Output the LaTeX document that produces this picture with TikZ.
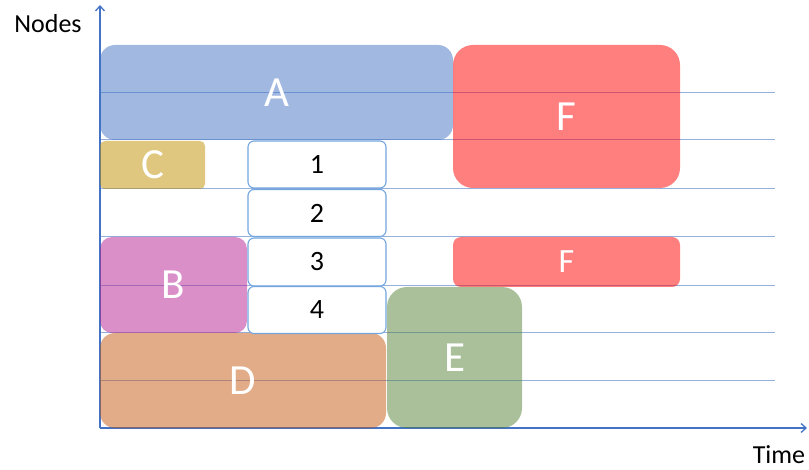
\documentclass[tikz,border=0pt]{standalone}
\usepackage{fontspec}
\setmainfont{Carlito}
\usetikzlibrary{arrows.meta}
\definecolor{axisblue}{HTML}{4472C4}
\definecolor{cA}{HTML}{4472C4}
\definecolor{cF}{HTML}{FF0000}
\definecolor{cC}{HTML}{BF9000}
\definecolor{cB}{HTML}{B51F91}
\definecolor{cD}{HTML}{C55A11}
\definecolor{cE}{HTML}{548235}
\definecolor{gridline}{RGB}{150,176,222}
\definecolor{slotborder}{RGB}{115,165,222}
\tikzset{
  axis/.style={draw=axisblue, line width=1.3pt, -{Straight Barb[length=5pt,width=9pt]}},
  gridln/.style={draw=gridline, line width=1pt},
  job/.style={anchor=north west, inner sep=0pt, outer sep=0pt, fill opacity=0.5,
    text opacity=1, text=white, font=\fontsize{43}{43}\selectfont},
  slot/.style={anchor=north west, inner sep=0pt, outer sep=0pt, fill=white,
    draw=slotborder, line width=1.1pt, rounded corners=6pt,
    font=\fontsize{28}{28}\selectfont},
  axlabel/.style={inner sep=0pt, font=\fontsize{26}{26}\selectfont}
}
\begin{document}
\begin{tikzpicture}[x=1pt,y=-1pt]
\useasboundingbox (0,0) rectangle (809,470);
% grid lines
\foreach \yy in {93,140,189,237,286,333,381}
  \draw[gridln] (100,\yy) -- (775,\yy);
% axes
\coordinate (origin) at (100,428);
\coordinate (ytip) at (100,5);
\coordinate (xtip) at (807,428);
\draw[axis] (origin) -- (ytip);
\draw[axis] (origin) -- (xtip);
\node[axlabel] (nodes) at (48,24) {Nodes};
\node[axlabel] (time) at (779,455) {Time};
% jobs
\node[job, fill=cA, rounded corners=15pt, minimum width=353pt, minimum height=95pt] (A) at (100,45) {A};
\node[job, fill=cF, rounded corners=20pt, minimum width=227pt, minimum height=143pt] (F1) at (453,45) {F};
\node[job, fill=cF, rounded corners=8pt, minimum width=227pt, minimum height=50pt, font=\fontsize{34}{34}\selectfont] (F2) at (453,237) {F};
\node[job, fill=cC, rounded corners=5pt, minimum width=105pt, minimum height=48pt] (C) at (100,141) {C};
\node[job, fill=cB, rounded corners=12pt, minimum width=147pt, minimum height=96pt] (B) at (100,237) {B};
\node[job, fill=cD, rounded corners=15pt, minimum width=286pt, minimum height=95pt] (D) at (100,333) {D};
\node[job, fill=cE, rounded corners=20pt, minimum width=135pt, minimum height=141pt] (E) at (387,287) {E};
% slots
\node[slot, minimum width=138pt, minimum height=47pt] (s1) at (248,141) {1};
\node[slot, minimum width=138pt, minimum height=47pt] (s2) at (248,189.5) {2};
\node[slot, minimum width=138pt, minimum height=48pt] (s3) at (248,238) {3};
\node[slot, minimum width=138pt, minimum height=47pt] (s4) at (248,286.5) {4};
\end{tikzpicture}
\end{document}
